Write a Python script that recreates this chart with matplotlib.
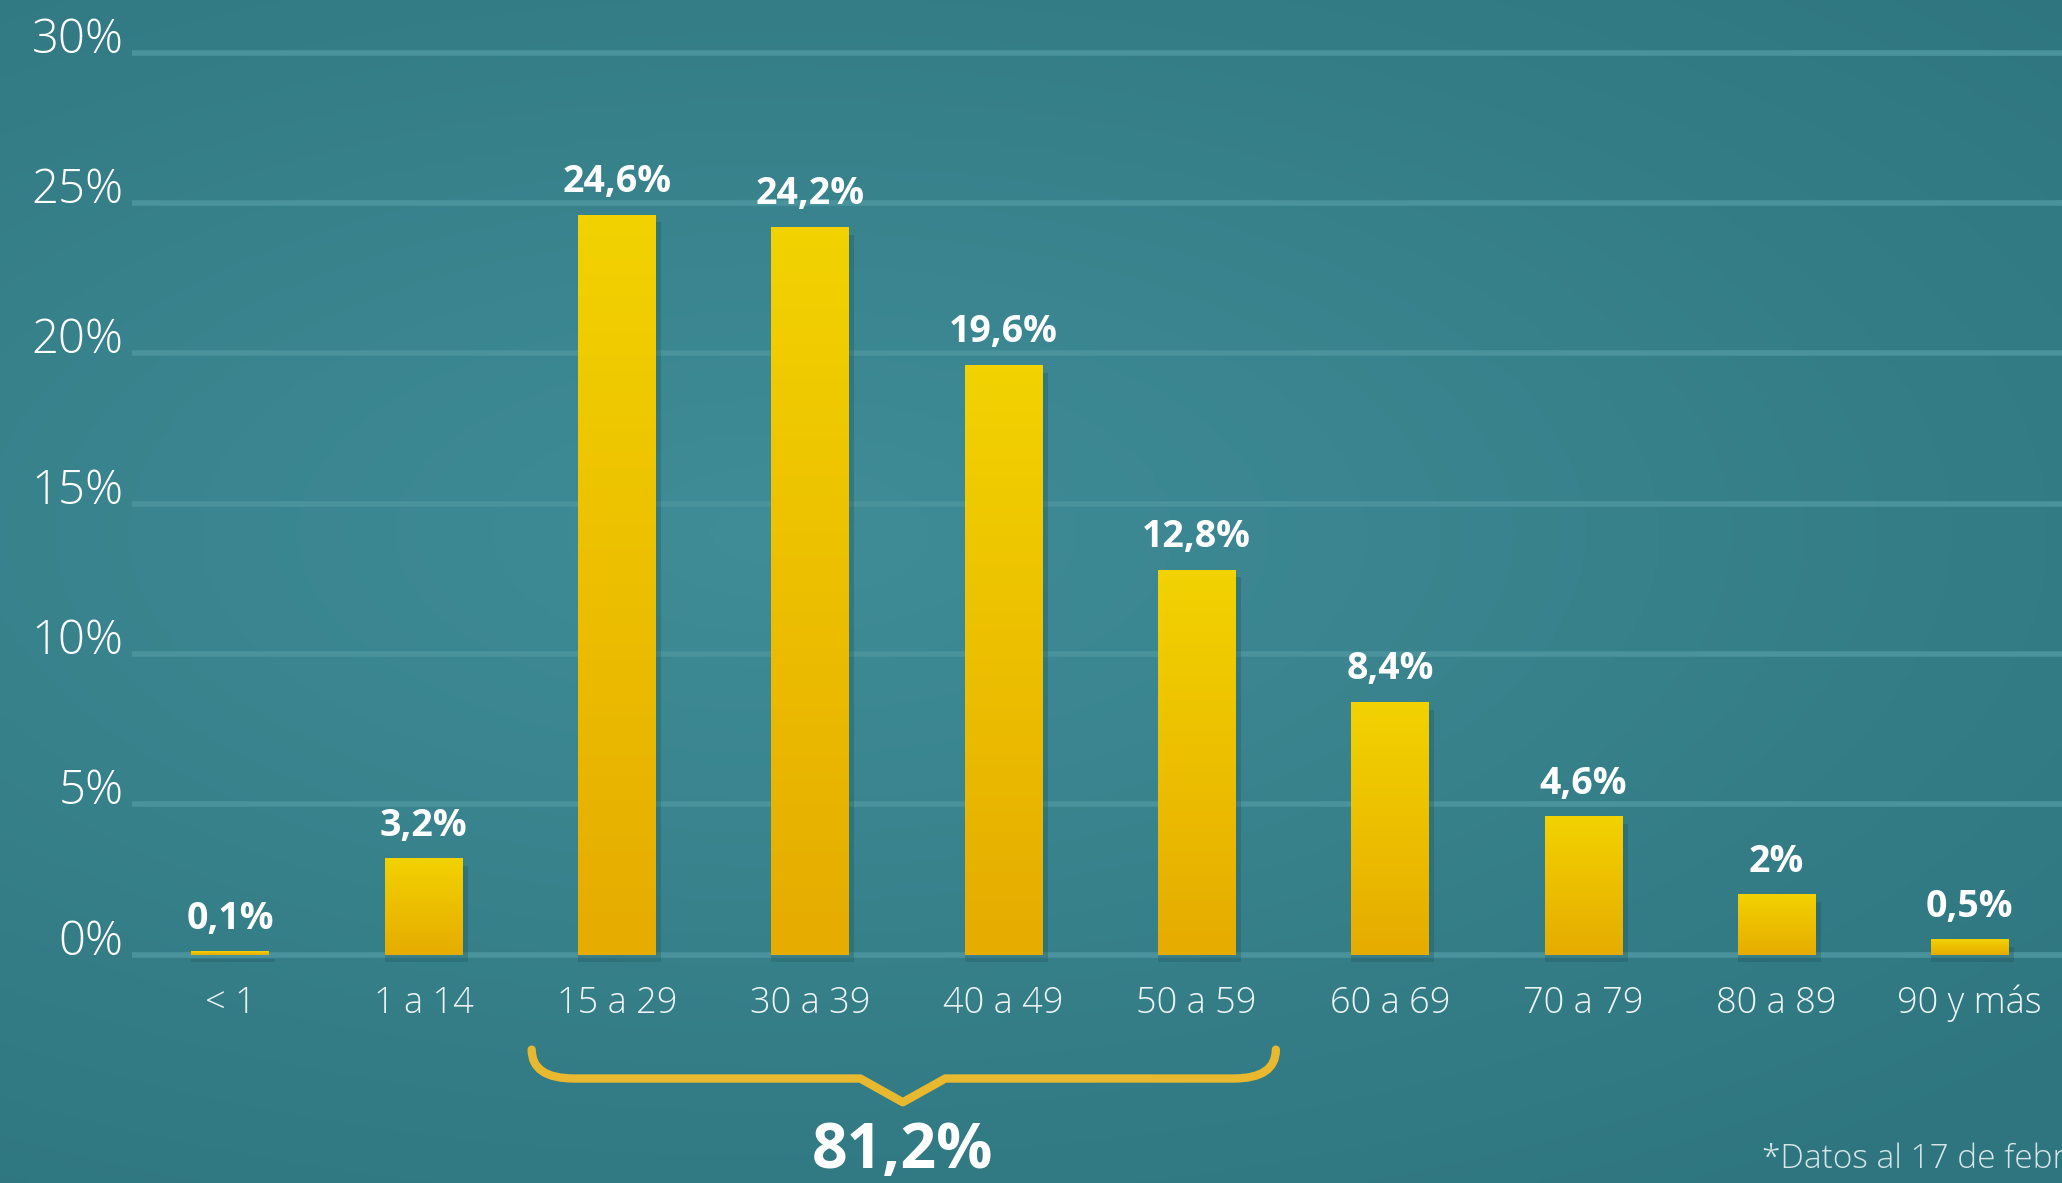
import numpy as np
import matplotlib
matplotlib.use("Agg")
from matplotlib import pyplot as plt
from matplotlib.path import Path
from matplotlib.patches import PathPatch

categories = ["< 1", "1 a 14", "15 a 29", "30 a 39", "40 a 49",
              "50 a 59", "60 a 69", "70 a 79", "80 a 89", "90 y más"]
values = [0.1, 3.2, 24.6, 24.2, 19.6, 12.8, 8.4, 4.6, 2, 0.5]
value_labels = ["0,1%", "3,2%", "24,6%", "24,2%", "19,6%",
                "12,8%", "8,4%", "4,6%", "2%", "0,5%"]
yticks = [0, 5, 10, 15, 20, 25, 30]
ytick_labels = ["0%", "5%", "10%", "15%", "20%", "25%", "30%"]

group_first = 2
group_last = 5
group_label = "81,2%"
note = "*Datos al 17 de febrero"

plt.rcParams['font.family'] = ['Open Sans', 'DejaVu Sans']

fig = plt.figure(figsize=(20.62, 11.83), dpi=100)

# teal background with a soft radial light
bg = fig.add_axes([0, 0, 1, 1])
bg.axis('off')
yy, xx = np.mgrid[0:1:300j, 0:1:520j]
d = np.sqrt((xx - 0.38) ** 2 + ((yy - 0.45) / 0.8) ** 2)
t = np.clip(d / 0.85, 0, 1)[..., None]
c0 = np.array([64, 141, 151]) / 255
c1 = np.array([46, 117, 127]) / 255
bg.imshow(c0 * (1 - t) + c1 * t, aspect='auto', extent=(0, 1, 0, 1))
bg.set_xlim(0, 1)
bg.set_ylim(0, 1)

ax = fig.add_axes([0.0638, 0.1674, 0.9362, 0.8136])
ax.patch.set_alpha(0)

for v in yticks:
    ax.axhline(v, color='#4a939c', lw=4, zorder=1)

x = np.arange(len(categories))
w = 0.40
# soft shadow
ax.bar(x + 0.015, values, w + 0.03, bottom=-0.25, color='#1d5258', alpha=0.3, zorder=2)
bars = ax.bar(x, values, w, color='#edc000', zorder=3)

grad = np.linspace(0, 1, 100)[:, None]
top = np.array([242, 210, 0]) / 255
bot = np.array([230, 172, 0]) / 255
img = top * (1 - grad[..., None]) + bot * grad[..., None]
img = np.repeat(img, 2, axis=1)
for b in bars:
    ax.imshow(img, aspect='auto', zorder=4,
              extent=(b.get_x(), b.get_x() + b.get_width(), 0, b.get_height()))

for i, (v, lab) in enumerate(zip(values, value_labels)):
    ax.annotate(lab, (i, v), xytext=(0, 10), textcoords='offset points',
                ha='center', va='bottom', fontsize=27, fontweight='bold',
                color='white')

for v, lab in zip(yticks, ytick_labels):
    ax.text(-0.004, v, lab, transform=ax.get_yaxis_transform(),
            ha='right', va='baseline', fontsize=34, fontweight='light',
            color='white')

ax.set_xlim(-0.51, 9.477)
ax.set_ylim(-1, 31)
ax.set_xticks(x)
ax.set_xticklabels(categories, fontsize=26, fontweight='light', color='#eef4f4')
ax.set_yticks([])
ax.tick_params(axis='x', length=0, pad=0)
for s in ax.spines.values():
    s.set_visible(False)

# brace under the 15-59 groups
x0 = group_first - 0.44
x1 = group_last + 0.41
xc = (group_first + group_last) / 2 - 0.02
ytop, ymid, ybot = -3.15, -4.11, -4.9
verts = [(x0, ytop), (x0, ymid), (x0 + 0.22, ymid),
         (xc - 0.22, ymid), (xc, ybot), (xc + 0.22, ymid),
         (x1 - 0.22, ymid), (x1, ymid), (x1, ytop)]
codes = [Path.MOVETO, Path.CURVE3, Path.CURVE3,
         Path.LINETO, Path.LINETO, Path.LINETO,
         Path.LINETO, Path.CURVE3, Path.CURVE3]
ax.add_patch(PathPatch(Path(verts, codes), facecolor='none', edgecolor='#e8b92e',
                       lw=6, capstyle='round', joinstyle='round', clip_on=False))
ax.text(xc, -7.1, group_label, ha='center', va='baseline', fontsize=45,
        fontweight='bold', color='white', clip_on=False)

fig.text(0.8545, 0.0127, note, fontsize=24, fontweight='light',
         color='#d6e6e8', va='baseline')

fig.savefig('out.png', dpi=100)
